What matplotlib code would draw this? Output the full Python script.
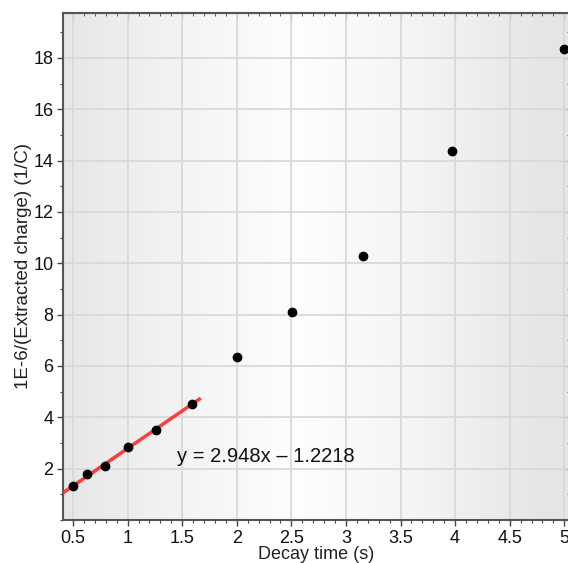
import numpy as np
import matplotlib
matplotlib.use("Agg")
import matplotlib.pyplot as plt
from matplotlib.ticker import MultipleLocator, FormatStrFormatter

plt.rcParams['font.family'] = ['Liberation Sans', 'DejaVu Sans']

# decay time (s) vs 1E-6/(extracted charge) (1/C)
decay_time = [0.5, 0.63, 0.794, 1.0, 1.26, 1.585, 2.0, 2.51, 3.16, 3.97, 5.0]
inv_charge = [1.32, 1.78, 2.1, 2.83, 3.5, 4.53, 6.34, 8.11, 10.3, 14.36, 18.33]
n_fit = 6
fit_label = "y = 2.948x \u2013 1.2218"

fig = plt.figure(figsize=(5.68, 5.63), dpi=100)
ax = fig.add_axes([0.111, 0.0764, 0.892, 0.9005])
ax.set_xlim(0.408, 5.05)
ax.set_ylim(0.0, 19.75)

# horizontal grey-white-grey background gradient
xs = np.linspace(0, 1, 400)
shade = 0.905 + 0.095 * np.clip(1 - np.abs(xs - 0.47) / 0.47, 0, 1) ** 0.8
grad = np.tile(shade, (2, 1))
rgb = np.dstack([grad * 0.995, grad * 0.995, grad * 1.0])
rgb = np.clip(rgb, 0, 1)
ax.imshow(rgb, extent=[0.408, 5.05, 0.0, 19.75], aspect='auto', zorder=0,
          interpolation='bilinear')

ax.grid(True, which='major', color='#d9d9d9', lw=1.3, zorder=1)
ax.set_axisbelow(True)

# fit through the first points
p = np.polyfit(decay_time[:n_fit], inv_charge[:n_fit], 1)
xf = np.array([0.38, 1.67])
ax.plot(xf, np.polyval(p, xf), color='#ff2a2a', lw=2.5, alpha=0.9, zorder=3,
        solid_capstyle='butt')
ax.plot(decay_time, inv_charge, 'o', color='black', ms=6, zorder=4,
        clip_on=False)

ax.text(1.45, 2.49, fit_label, fontsize=14.5, va='center', ha='left',
        color='#111111', zorder=5)

ax.xaxis.set_major_locator(MultipleLocator(0.5))
ax.xaxis.set_minor_locator(MultipleLocator(0.1))
ax.yaxis.set_major_locator(MultipleLocator(2))
ax.yaxis.set_minor_locator(MultipleLocator(1))
ax.xaxis.set_major_formatter(FormatStrFormatter('%g'))
ax.yaxis.set_major_formatter(FormatStrFormatter('%g'))
ax.set_yticks([2, 4, 6, 8, 10, 12, 14, 16, 18])

ax.tick_params(which='major', direction='out', length=4, width=1,
               color='#444444', labelsize=13, labelcolor='#111111', pad=3)
ax.tick_params(which='minor', direction='out', length=2, width=0.8,
               color='#444444')

for s in ['left', 'bottom', 'top']:
    ax.spines[s].set_color('#555555')
    ax.spines[s].set_linewidth(1.5)
ax.spines['right'].set_visible(False)

top = ax.secondary_xaxis('top')
top.xaxis.set_major_locator(MultipleLocator(0.5))
top.xaxis.set_minor_locator(MultipleLocator(0.1))
top.tick_params(which='major', direction='in', length=4, color='#444444',
                labeltop=False)
top.tick_params(which='minor', direction='in', length=2, color='#444444')
top.spines['top'].set_color('#555555')
top.spines['top'].set_linewidth(1.5)

right = ax.secondary_yaxis('right')
right.yaxis.set_major_locator(MultipleLocator(2))
right.yaxis.set_minor_locator(MultipleLocator(1))
right.tick_params(which='major', direction='in', length=4, color='#444444',
                  labelright=False)
right.tick_params(which='minor', direction='in', length=2, color='#444444')

ax.set_xlabel("Decay time (s)", fontsize=13, color='#222222', labelpad=-0.5)
ax.set_ylabel("1E-6/(Extracted charge) (1/C)", fontsize=13.5, color='#222222',
              labelpad=1)

fig.savefig("out.png", dpi=100)
